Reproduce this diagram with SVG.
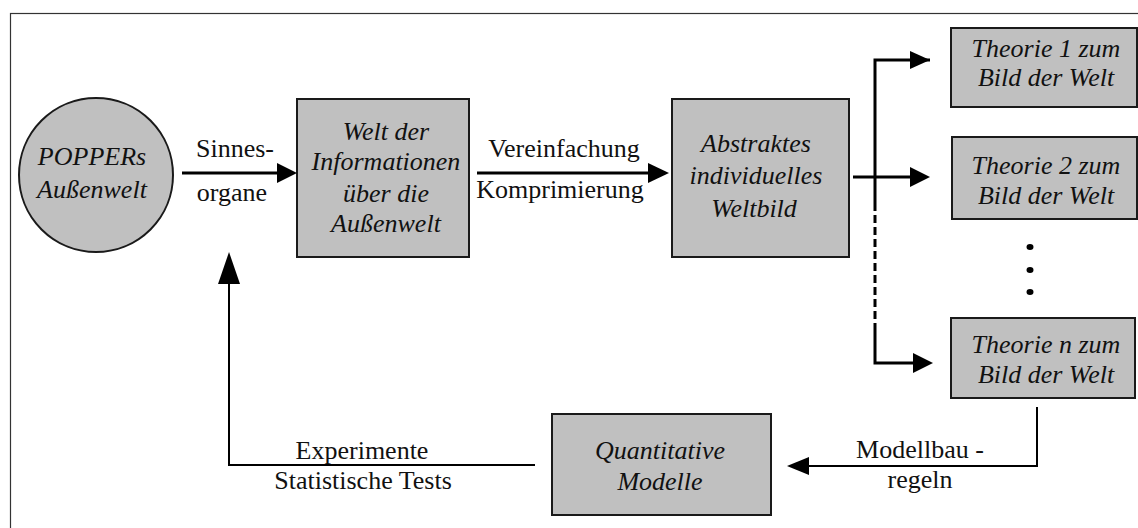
<svg xmlns="http://www.w3.org/2000/svg" width="1138" height="528" viewBox="0 0 1138 528">
<style>
.node{fill:#c0c0c0;stroke:#1a1a1a;stroke-width:2}
.nt{font-family:"Liberation Serif","Times New Roman",serif;font-style:italic;font-size:26px;fill:#111;text-anchor:middle}
.lt{font-family:"Liberation Serif","Times New Roman",serif;font-size:26px;fill:#111;text-anchor:middle}
.thick{stroke:#000;stroke-width:3;fill:none}
.thin{stroke:#000;stroke-width:2;fill:none}
.head{fill:#000}
</style>
<rect x="10.5" y="13.5" width="1140" height="530" fill="#fff" stroke="#333" stroke-width="1.2"/>
<g id="popper">
<circle class="node" cx="96" cy="175" r="77"/>
<text class="nt" x="92" y="165">POPPERs</text>
<text class="nt" x="92" y="198">Außenwelt</text>
</g>
<g id="welt-info">
<rect class="node" x="297" y="99" width="172" height="158"/>
<text class="nt" x="386" y="140">Welt der</text>
<text class="nt" x="386" y="170">Informationen</text>
<text class="nt" x="386" y="202">über die</text>
<text class="nt" x="386" y="232">Außenwelt</text>
</g>
<g id="weltbild">
<rect class="node" x="672" y="99" width="177" height="158"/>
<text class="nt" x="756" y="152">Abstraktes</text>
<text class="nt" x="756" y="184">individuelles</text>
<text class="nt" x="754" y="217">Weltbild</text>
</g>
<g id="theorie1">
<rect class="node" x="951" y="28" width="186" height="79"/>
<text class="nt" x="1046" y="57">Theorie 1 zum</text>
<text class="nt" x="1046" y="86">Bild der Welt</text>
</g>
<g id="theorie2">
<rect class="node" x="952" y="137" width="185" height="82"/>
<text class="nt" x="1046" y="174">Theorie 2 zum</text>
<text class="nt" x="1046" y="204">Bild der Welt</text>
</g>
<g id="dots">
<ellipse cx="1030" cy="247" rx="3.5" ry="3"/>
<ellipse cx="1030" cy="270" rx="3.5" ry="3"/>
<ellipse cx="1030" cy="292" rx="3.5" ry="3"/>
</g>
<g id="theorien">
<rect class="node" x="951" y="318" width="184" height="80"/>
<text class="nt" x="1046" y="353">Theorie n zum</text>
<text class="nt" x="1046" y="383">Bild der Welt</text>
</g>
<g id="modelle">
<rect class="node" x="552" y="414" width="219" height="101"/>
<text class="nt" x="660" y="459">Quantitative</text>
<text class="nt" x="660" y="490">Modelle</text>
</g>
<g id="connectors">
<line class="thick" x1="182" y1="173" x2="280" y2="173"/>
<polygon class="head" points="277,163 297,173 277,183"/>
<line class="thick" x1="477" y1="173" x2="650" y2="173"/>
<polygon class="head" points="648,163 669,173 648,183"/>
<line class="thick" x1="853" y1="177" x2="912" y2="177"/>
<polygon class="head" points="910,167 930,177 910,187"/>
<polyline class="thick" points="930,60 875,60 875,203"/>
<polygon class="head" points="910,51 930,60 910,69"/>
<line class="thick" x1="875" y1="203" x2="875" y2="323" stroke-dasharray="8,4"/>
<polyline class="thick" points="875,323 875,363 915,363"/>
<polygon class="head" points="913,353 933,363 913,373"/>
<polyline class="thin" points="1037,407 1037,466 805,466"/>
<polygon class="head" points="809,457 787,466 809,475"/>
<polyline class="thin" points="535,465 229,465 229,282"/>
<polygon class="head" points="218,284 229,252 240,284"/>
<text class="lt" x="235" y="157">Sinnes-</text>
<text class="lt" x="232" y="201">organe</text>
<text class="lt" x="564" y="157">Vereinfachung</text>
<text class="lt" x="560" y="198">Komprimierung</text>
<text class="lt" x="920" y="458">Modellbau -</text>
<text class="lt" x="920" y="488">regeln</text>
<text class="lt" x="362" y="459">Experimente</text>
<text class="lt" x="363" y="489">Statistische Tests</text>
</g>
</svg>
